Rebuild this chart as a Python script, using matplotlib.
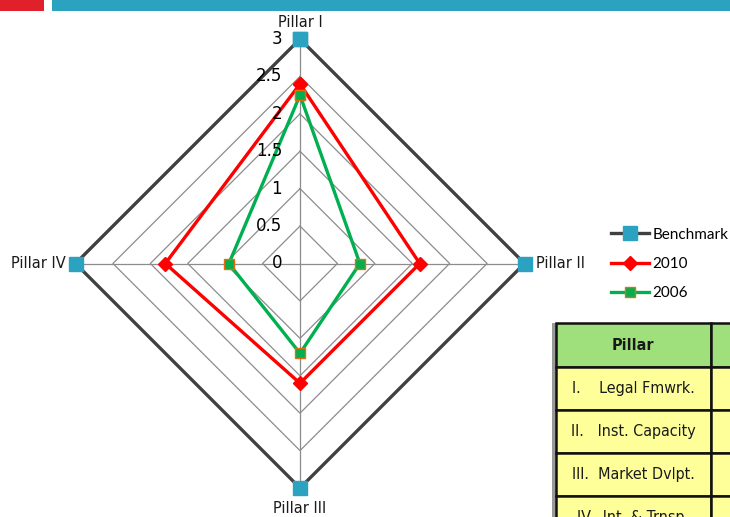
import numpy as np
import matplotlib
matplotlib.use("Agg")
import matplotlib.pyplot as plt
from matplotlib.patches import Rectangle
from matplotlib.lines import Line2D
from matplotlib.transforms import offset_copy

# Dados do gráfico radar
pilares = ["Pillar I", "Pillar II", "Pillar III", "Pillar IV"]
benchmark = [3, 3, 3, 3]
ano_2010 = [2.4, 1.6, 1.6, 1.8]
ano_2006 = [2.25, 0.8, 1.2, 0.95]
niveis = [0, 0.5, 1, 1.5, 2, 2.5, 3]
rotulos_niveis = ["0", "0.5", "1", "1.5", "2", "2.5", "3"]

# Tabela ao lado
cabecalho_tabela = "Pillar"
linhas_tabela = ["I.    Legal Fmwrk.", "II.   Inst. Capacity", "III.  Market Dvlpt.", "IV.  Int. & Trnsp."]

W, H = 730, 517
fig = plt.figure(figsize=(W / 100, H / 100), dpi=100)
fig.patch.set_facecolor("white")

# faixa superior
fig.add_artist(Rectangle((0, 1 - 11 / H), 44 / W, 11 / H, transform=fig.transFigure,
                         color="#E0202A", lw=0))
fig.add_artist(Rectangle((52 / W, 1 - 11 / H), (W - 52) / W, 11 / H, transform=fig.transFigure,
                         color="#2BA2C0", lw=0))

# eixo polar
cx, cy, raio = 300, 263.5, 224.5
ax = fig.add_axes([(cx - raio) / W, (H - cy - raio) / H, 2 * raio / W, 2 * raio / H],
                  projection="polar")
ax.set_theta_offset(np.pi / 2)
ax.set_theta_direction(-1)
ax.set_ylim(0, 3)
ax.grid(False)
ax.spines["polar"].set_visible(False)
ax.set_xticks([])
ax.set_yticks([])
ax.patch.set_alpha(0)

angulos = np.arange(len(pilares)) * 2 * np.pi / len(pilares)
ang_fech = np.append(angulos, angulos[0])

def fechar(v):
    return np.append(v, v[0])

# grade em losango
for n in niveis[1:]:
    ax.plot(ang_fech, [n] * len(ang_fech), color="#8C8C8C", lw=0.9, zorder=1)
for a in angulos:
    ax.plot([a, a], [0, 3], color="#8C8C8C", lw=0.9, zorder=1)

# séries
ax.plot(ang_fech, fechar(benchmark), color="#404040", lw=2.4, marker="s", markersize=10,
        markerfacecolor="#2BA2C0", markeredgecolor="#2BA2C0", zorder=3, clip_on=False)
ax.plot(ang_fech, fechar(ano_2010), color="#FF0000", lw=2.4, marker="D", markersize=7.5,
        markerfacecolor="#FF0000", markeredgecolor="#FF0000", zorder=4, clip_on=False)
ax.plot(ang_fech, fechar(ano_2006), color="#00B050", lw=2.4, marker="s", markersize=7,
        markerfacecolor="#00B050", markeredgecolor="#E46C0A", markeredgewidth=1.0,
        zorder=5, clip_on=False)

# rótulos radiais
trans_rot = offset_copy(ax.transData, fig=fig, x=-18, y=0, units="dots")
for n, r in zip(niveis, rotulos_niveis):
    ax.text(0, n, r, transform=trans_rot, ha="right", va="center", fontsize=12,
            color="black", zorder=6)

# rótulos dos pilares
deslocamentos = [(0, 9, "center", "bottom"), (12, 0, "left", "center"),
                 (0, -13, "center", "top"), (-10, 0, "right", "center")]
for a, nome, (dx, dy, ha, va) in zip(angulos, pilares, deslocamentos):
    tr = offset_copy(ax.transData, fig=fig, x=dx, y=dy, units="dots")
    ax.text(a, 3, nome, transform=tr, ha=ha, va=va, fontsize=10.5, color="#1A1A1A")

# legenda
handles = [
    Line2D([], [], color="#404040", lw=2.4, marker="s", markersize=10,
           markerfacecolor="#2BA2C0", markeredgecolor="#2BA2C0"),
    Line2D([], [], color="#FF0000", lw=2.4, marker="D", markersize=7.5,
           markerfacecolor="#FF0000", markeredgecolor="#FF0000"),
    Line2D([], [], color="#00B050", lw=2.4, marker="s", markersize=7,
           markerfacecolor="#00B050", markeredgecolor="#E46C0A"),
]
fig.legend(handles, ["Benchmark", "2010", "2006"], loc="center left",
           bbox_to_anchor=(611 / W, 1 - 264 / H), frameon=False,
           prop={"family": "Lato", "size": 11}, borderaxespad=0,
           handlelength=2.5, handletextpad=0.2, labelspacing=1.0, borderpad=0)

# tabela parcial (canto inferior direito)
tx = fig.add_axes([548 / W, 0, (W - 548) / W, (H - 318) / H])
tx.set_xlim(548, W)
tx.set_ylim(H, 318)
tx.axis("off")
fonte_tab = dict(family="DejaVu Sans", fontstretch="condensed", color="#1A1A1A")
tx.add_patch(Rectangle((552, 323), 4, 200, color="#9A9A9A", lw=0))
y0, alt = 323, 44
tx.add_patch(Rectangle((556, y0), 155, alt, facecolor="#A0E07C", edgecolor="#111111", lw=1.8))
tx.add_patch(Rectangle((711, y0), 60, alt, facecolor="#A0E07C", edgecolor="#111111", lw=1.8))
tx.text(633, y0 + alt / 2, cabecalho_tabela, ha="center", va="center", fontsize=11.5,
        fontweight="bold", **fonte_tab)
for i, linha in enumerate(linhas_tabela):
    y = y0 + alt + i * 43
    tx.add_patch(Rectangle((556, y), 155, 43, facecolor="#FFFF99", edgecolor="#111111", lw=1.8))
    tx.add_patch(Rectangle((711, y), 60, 43, facecolor="#FFFF99", edgecolor="#111111", lw=1.8))
    tx.text(633, y + 21.5, linha, ha="center", va="center", fontsize=11.5, **fonte_tab)

fig.savefig("out.png", dpi=100, facecolor="white")
